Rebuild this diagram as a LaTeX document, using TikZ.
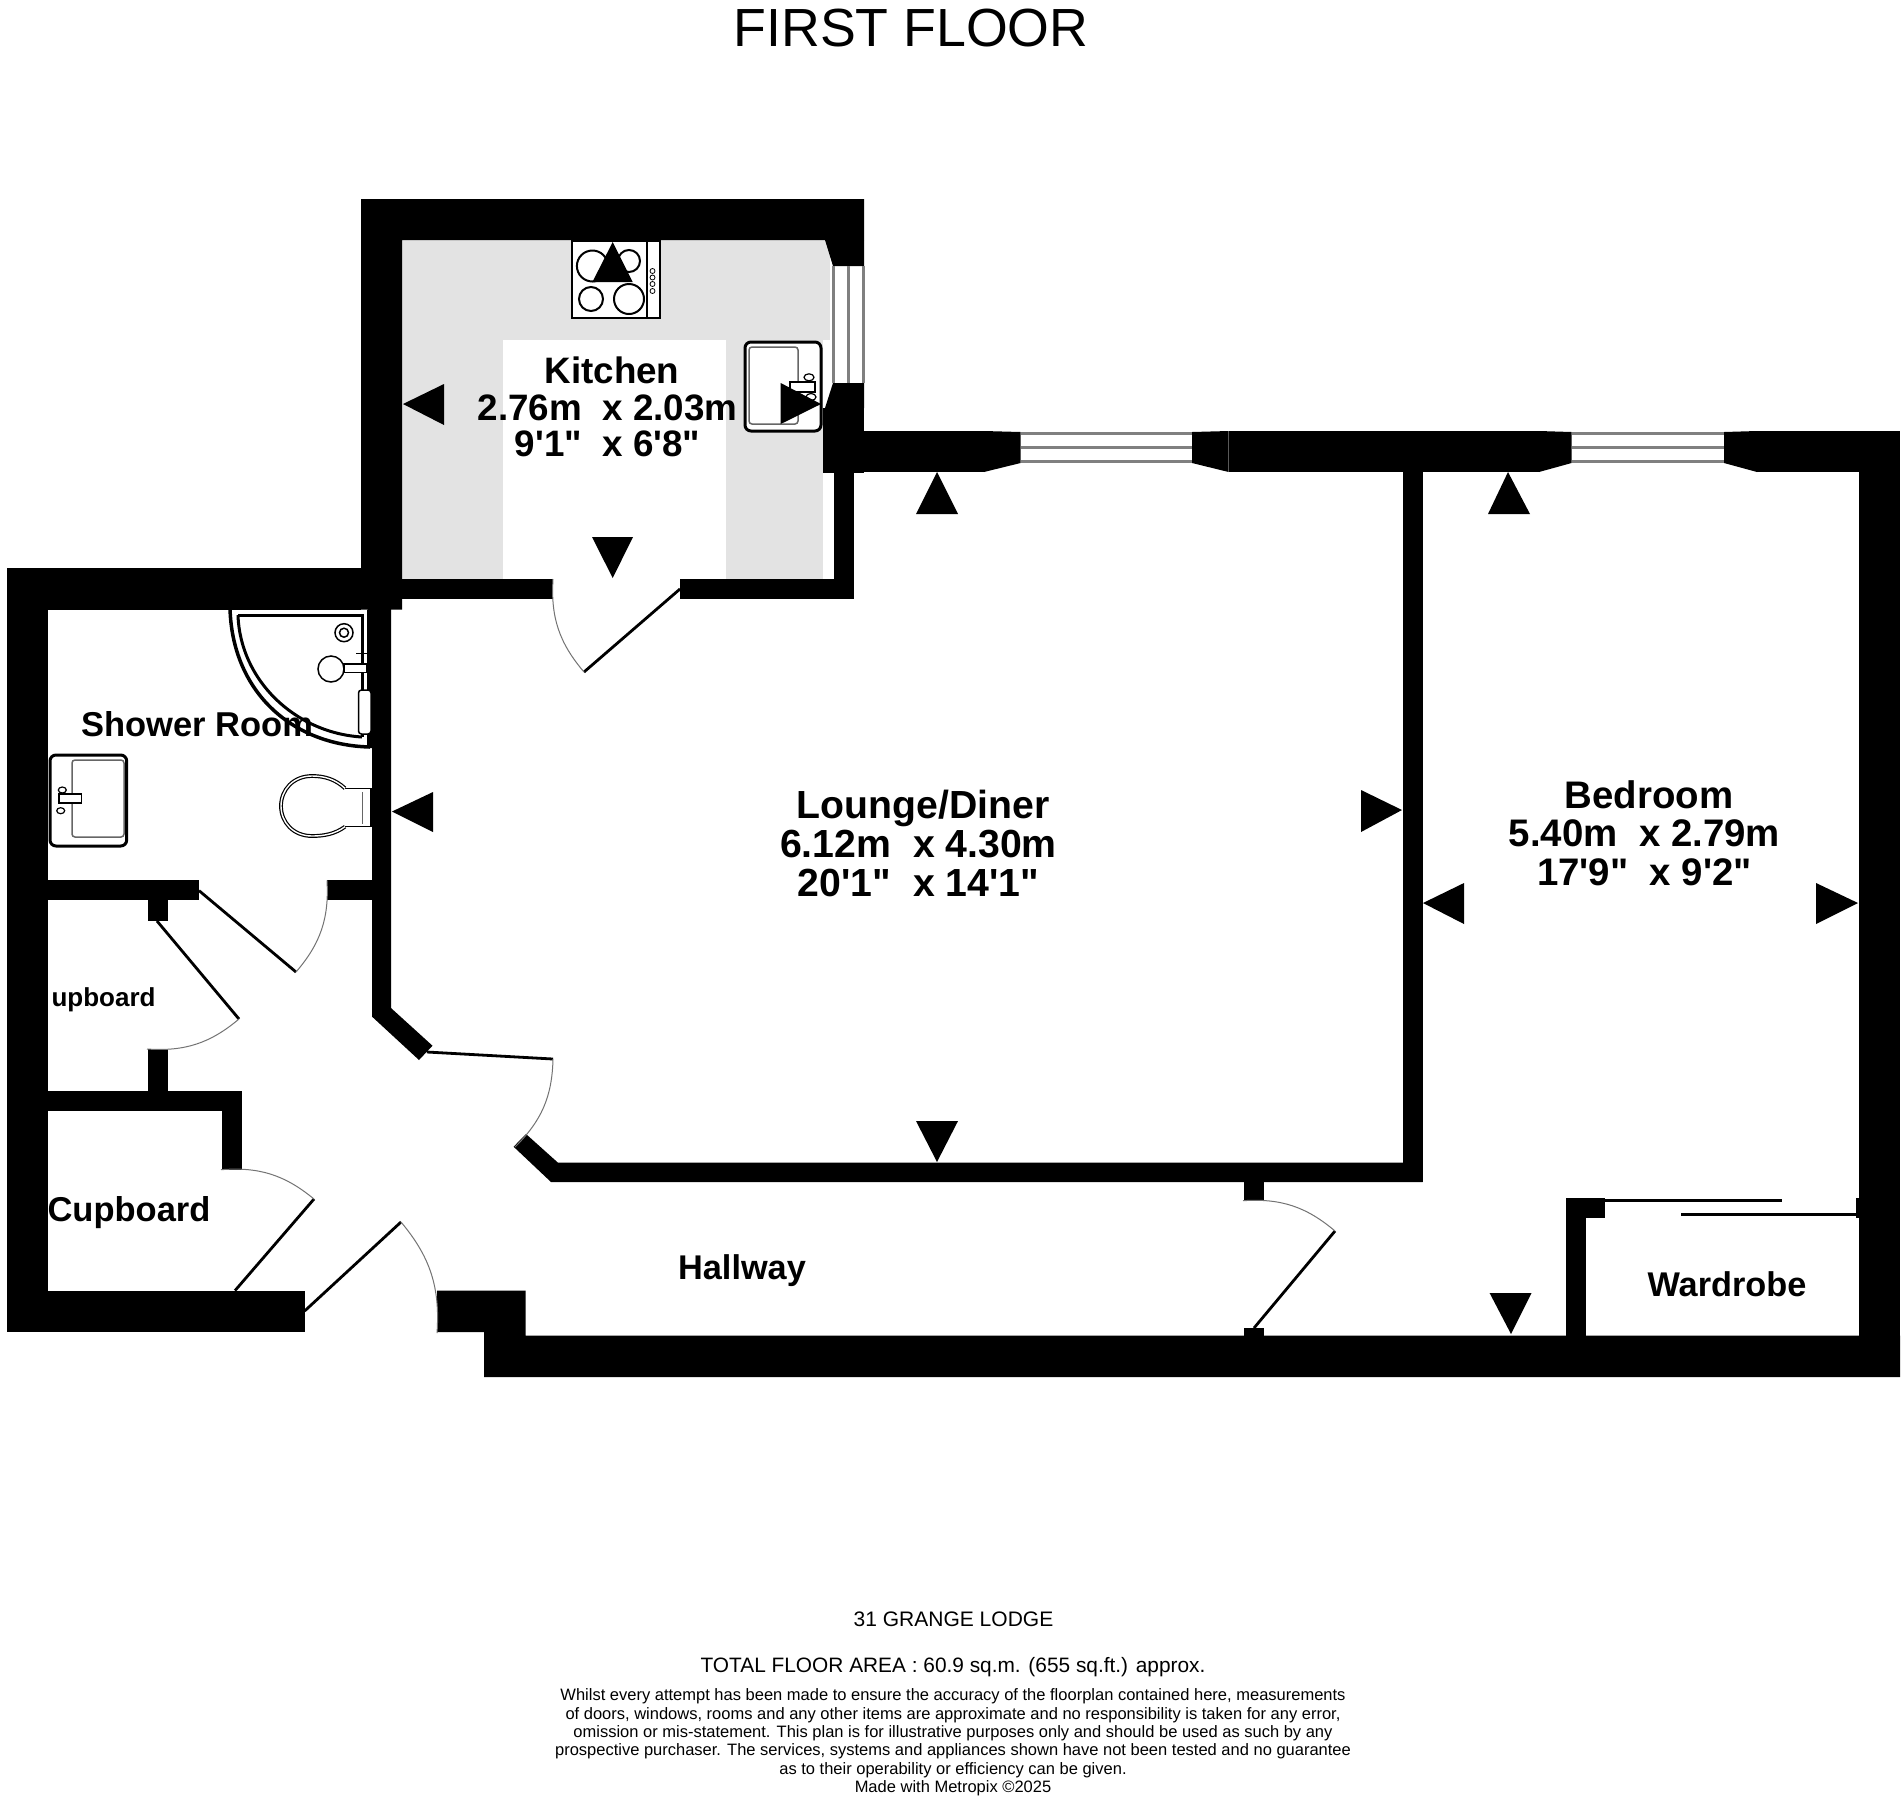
\documentclass[tikz,border=0pt]{standalone}
\usepackage{fontspec}
\setmainfont{Liberation Sans}[Ligatures=TeXOff]
\definecolor{kitchengrey}{gray}{0.89}
\tikzset{
  wall/.style={fill=black},
  glass/.style={draw=black!50!white, line width=3pt},
  leaf/.style={draw=black, line width=2.8pt},
  swing/.style={draw=black!55!white, line width=1pt},
  fitting/.style={draw=black, line width=2pt, fill=white},
  thinfit/.style={draw=black!60!white, line width=1.5pt},
  tick/.style={fill=black},
  roomtext/.style={font=\bfseries, inner sep=0pt, align=center, text=black},
  foottext/.style={inner sep=0pt, align=center, text=black}
}
\begin{document}
\begin{tikzpicture}[x=1pt, y=-1pt]
\useasboundingbox (0,0) rectangle (1904,1800);
\fill[white] (0,0) rectangle (1904,1800);
% kitchen floor
\fill[kitchengrey] (402,240) rectangle (823,579);
\fill[kitchengrey] (823,240) rectangle (830,340);
\fill[white] (502.5,340) rectangle (725.7,579);
% outer walls
\fill[wall] (361,199) -- (864,199) -- (864,240) -- (402,240) -- (402,609.5) -- (361,609.5) -- cycle;
\fill[wall] (7,568) rectangle (361,609.5);
\fill[wall] (7,568) rectangle (48,1332);
\fill[wall] (7,1290.6) rectangle (304.6,1332);
\fill[wall] (437,1290.6) -- (525.5,1290.6) -- (525.5,1335.7) -- (1900,1335.7) -- (1900,1377) -- (484,1377) -- (484,1332) -- (437,1332) -- cycle;
\fill[wall] (823,408) rectangle (864,473);
\fill[wall] (864,431) rectangle (984,472);
\fill[wall] (1228.6,431) rectangle (1539,472);
\fill[wall] (1757,431) rectangle (1900,472);
\fill[wall] (1859,431) rectangle (1900,1377);
% window jambs
\fill[wall] (825,240) -- (864,240) -- (864,266) -- (833,266) -- cycle;
\fill[wall] (833,383) -- (864,383) -- (864,408) -- (825,408) -- cycle;
\fill[wall] (984,431) -- (1020.6,432) -- (1020.6,463) -- (984,472) -- cycle;
\fill[wall] (1192,432) -- (1228.6,431) -- (1228.6,472) -- (1192,463) -- cycle;
\fill[wall] (1539,431) -- (1571.6,432) -- (1571.6,463) -- (1539,472) -- cycle;
\fill[wall] (1724,432) -- (1757,431) -- (1757,472) -- (1724,463) -- cycle;
% window glass
\foreach \gx in {833,848,863} \draw[glass] (\gx,266) -- (\gx,383);
\foreach \gy in {433,447,461} {
  \draw[glass] (1020.6,\gy) -- (1192,\gy);
  \draw[glass] (1571.6,\gy) -- (1724,\gy);
}
% inner walls
\fill[wall] (402,579) rectangle (553,599);
\fill[wall] (680,579) rectangle (854,599);
\fill[wall] (834,473) rectangle (854,599);
\fill[wall] (1403,472) rectangle (1422.6,1182);
\fill[wall] (558,1162.7) -- (1422.6,1162.7) -- (1422.6,1182) -- (551,1182) -- (513.6,1146.7) -- (526,1134) -- cycle;
\fill[wall] (367.7,609) -- (391,609) -- (391,1008) -- (432.5,1045.7) -- (419,1060) -- (372,1016.6) -- (372,748) -- (367.7,748) -- cycle;
\fill[wall] (48,880.4) rectangle (199,900.3);
\fill[wall] (327,880.4) rectangle (372,900.3);
\fill[wall] (148,900) rectangle (167.6,921);
\fill[wall] (148,1049) rectangle (167.6,1091);
\fill[wall] (48,1090.6) rectangle (242,1111);
\fill[wall] (222,1111) rectangle (242,1169.7);
\fill[wall] (1243.7,1182) rectangle (1263.5,1200.7);
\fill[wall] (1243.7,1328) rectangle (1263.5,1336);
\fill[wall] (1566,1197.7) rectangle (1586,1336);
\fill[wall] (1566,1197.7) rectangle (1605,1217.7);
\fill[wall] (1855.6,1197.7) rectangle (1860,1217.7);
% doors
\draw[leaf] (680,589) -- (584,672);
\draw[swing] (584,672) to[bend left=22] (553,579);
\draw[leaf] (199,890.6) -- (296,972);
\draw[swing] (296,972) to[bend right=22] (327,880.4);
\draw[leaf] (157,921) -- (239,1019);
\draw[swing] (239,1019) to[bend left=22] (147,1049);
\draw[leaf] (235,1290.6) -- (314,1199);
\draw[swing] (314,1199) to[bend right=22] (221,1169.7);
\draw[leaf] (304.6,1311) -- (401,1222);
\draw[swing] (401,1222) to[bend left=22] (437,1333);
\draw[leaf] (427,1052) -- (553,1059);
\draw[swing] (553,1059) to[bend left=22] (515,1147);
\draw[leaf] (1254,1328) -- (1335,1231);
\draw[swing] (1335,1231) to[bend right=22] (1243,1200.7);
% wardrobe sliders
\draw[leaf] (1605,1200.7) -- (1782,1200.7);
\draw[leaf] (1681,1214.7) -- (1858,1214.7);
% hob
\draw[fitting] (572.4,241) rectangle (659.6,318);
\draw[draw=black, line width=1.5pt] (647,241) -- (647,318);
\draw[fitting] (592.4,266) circle (15.5);
\draw[fitting] (629,261) circle (11);
\draw[fitting] (591,299) circle (12);
\draw[fitting] (629,299) circle (15);
\foreach \ky in {271,277.5,284,291} \draw[draw=black, line width=0.8pt] (652.5,\ky) circle (2.5);
% kitchen sink
\draw[fitting, rounded corners=6pt, line width=3pt] (745,342) rectangle (821,431);
\draw[thinfit, rounded corners=3pt] (749,347) rectangle (798,424);
\draw[draw=black, line width=1.2pt, fill=white] (790,382) rectangle (815,392);
\draw[draw=black, line width=1.2pt, fill=white] (809,377.3) ellipse (5 and 3.5);
\draw[draw=black, line width=1.2pt, fill=white] (811,397) ellipse (5 and 3.5);
% shower tray
\draw[draw=black, line width=3.5pt] (230,608) .. controls (232,690) and (290,745) .. (370,747);
\draw[draw=black, line width=1.3pt] (367.7,610) -- (367.7,748);
\draw[draw=black, line width=3pt] (238,615) -- (362,615) -- (362,737);
\draw[draw=black, line width=3pt] (238,615) .. controls (240,680) and (295,733) .. (362,737);
\draw[draw=black, line width=1.5pt] (344,632.7) circle (9);
\draw[draw=black, line width=1.5pt] (344,632.7) circle (4.5);
\draw[draw=black, line width=1pt] (356,653) -- (367,653);
\draw[draw=black, line width=1pt] (363,653) -- (363,687);
\draw[draw=black, line width=1pt] (367,653) -- (367,687);
\draw[draw=black, line width=1.2pt, fill=white] (344,664) rectangle (367,672.7);
\draw[draw=black, line width=1.5pt, fill=white] (331,669) circle (13);
\draw[draw=black, line width=1.5pt, fill=white, rounded corners=3pt] (358.5,690) rectangle (371,734);
% toilet
\draw[draw=black, line width=1.5pt, fill=white] (345,788.3) -- (371,788.3) -- (371,826.7) -- (345,826.7);
\draw[draw=black, line width=1.2pt, double=white, double distance=1.4pt] (345,788.3) .. controls (335,779) and (324,776) .. (312,776) .. controls (293,776) and (281,790) .. (281,806) .. controls (281,822) and (293,836) .. (312,836) .. controls (324,836) and (335,834) .. (345,826.7);
\draw[thinfit] (362.7,792) -- (362.7,824);
% basin
\draw[fitting, rounded corners=6pt, line width=3pt] (50,755) rectangle (126.7,846);
\draw[thinfit, rounded corners=3pt] (72,760) rectangle (124,837);
\draw[draw=black, line width=1.2pt, fill=white] (59,794) rectangle (81.7,803);
\draw[draw=black, line width=1.2pt, fill=white] (62.3,790) ellipse (4 and 3);
\draw[draw=black, line width=1.2pt, fill=white] (60.7,810.7) ellipse (4 and 3);
% measuring ticks
\fill[tick] (612.7,242) -- (632.7,282) -- (592.4,282) -- cycle;
\fill[tick] (403,404) -- (444,384) -- (444,425) -- cycle;
\fill[tick] (821,404) -- (780.7,383) -- (780.7,424) -- cycle;
\fill[tick] (612.7,578) -- (592,537) -- (633,537) -- cycle;
\fill[tick] (937,472) -- (958,514) -- (916,514) -- cycle;
\fill[tick] (392,811.5) -- (433,792) -- (433,832) -- cycle;
\fill[tick] (1402,810) -- (1361,790) -- (1361,832) -- cycle;
\fill[tick] (937,1162) -- (916,1121) -- (958,1121) -- cycle;
\fill[tick] (1508,472) -- (1530,514) -- (1488,514) -- cycle;
\fill[tick] (1423,903) -- (1464,883) -- (1464,924) -- cycle;
\fill[tick] (1858,903) -- (1816,883) -- (1816,924) -- cycle;
\fill[tick] (1511,1334) -- (1489.6,1293) -- (1531.5,1293) -- cycle;
% labels
\node[roomtext, font=\bfseries\fontsize{36.8}{36.7}\selectfont] (kitchenlabel) at (612,407) {Kitchen\\2.76m\ \ x 2.03m\rule{9pt}{0pt}\\9'1"\ \ x 6'8"\rule{9pt}{0pt}};
\node[roomtext, font=\bfseries\fontsize{39.2}{39}\selectfont] (loungelabel) at (923,843) {Lounge/Diner\\6.12m\ \ x 4.30m\rule{9pt}{0pt}\\20'1"\ \ x 14'1"\rule{9pt}{0pt}};
\node[roomtext, font=\bfseries\fontsize{38.4}{38.5}\selectfont] (bedroomlabel) at (1649,833) {Bedroom\\5.40m\ \ x 2.79m\rule{9pt}{0pt}\\17'9"\ \ x 9'2"\rule{9pt}{0pt}};
\node[roomtext, font=\bfseries\fontsize{34.5}{36}\selectfont] (showerlabel) at (197,724) {Shower Room};
\node[roomtext, font=\bfseries\fontsize{26}{28}\selectfont] (cupboardone) at (103.5,1000) {upboard};
\node[roomtext, font=\bfseries\fontsize{34.5}{36}\selectfont] (cupboardtwo) at (129,1213) {Cupboard};
\node[roomtext, font=\bfseries\fontsize{34.3}{36}\selectfont] (hallwaylabel) at (742,1271) {Hallway};
\node[roomtext, font=\bfseries\fontsize{34.3}{36}\selectfont] (wardrobelabel) at (1727,1284) {Wardrobe};
\node[foottext, anchor=base, font=\fontsize{53.7}{56}\selectfont] (floortitle) at (911,46) {FIRST FLOOR};
\node[foottext, anchor=base, font=\fontsize{21}{23}\selectfont] (addresslabel) at (953.5,1626) {31 GRANGE LODGE};
\node[foottext, anchor=base, font=\fontsize{20.85}{23}\selectfont] (arealabel) at (953,1672) {TOTAL FLOOR AREA : 60.9 sq.m. (655 sq.ft.) approx.};
\node[foottext, anchor=north, font=\fontsize{16.5}{18.4}\selectfont] (disclaimer) at (953,1688.5) {Whilst every attempt has been made to ensure the accuracy of the floorplan contained here, measurements\\of doors, windows, rooms and any other items are approximate and no responsibility is taken for any error,\\omission or mis-statement. This plan is for illustrative purposes only and should be used as such by any\\prospective purchaser. The services, systems and appliances shown have not been tested and no guarantee\\as to their operability or efficiency can be given.\\Made with Metropix ©2025};
\end{tikzpicture}
\end{document}
